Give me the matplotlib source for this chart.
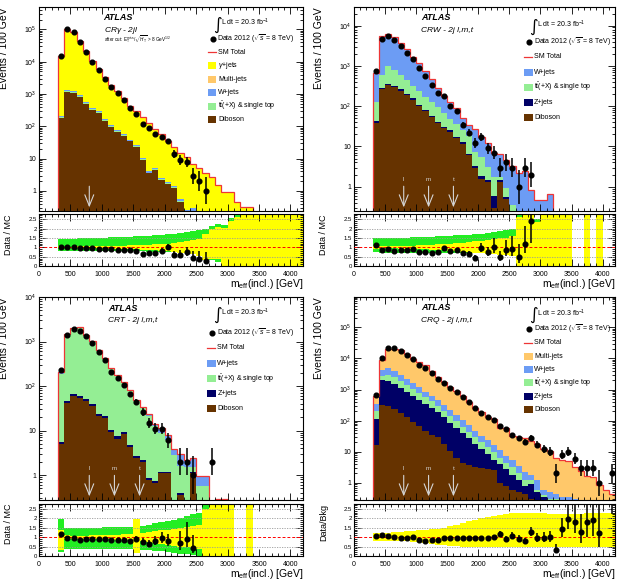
import numpy as np
import matplotlib.pyplot as plt
import matplotlib.transforms as mtransforms
from matplotlib.patches import Rectangle
from matplotlib.lines import Line2D
from matplotlib.ticker import MultipleLocator, LogLocator, NullFormatter, FuncFormatter

plt.rcParams['font.family'] = ['Liberation Sans', 'DejaVu Sans']
plt.rcParams['mathtext.fontset'] = 'custom'
plt.rcParams['mathtext.rm'] = 'Liberation Sans'
plt.rcParams['mathtext.it'] = 'Liberation Sans:italic'
plt.rcParams['mathtext.bf'] = 'Liberation Sans:bold'

# m_eff(incl.) bins, 100 GeV wide from 300 to 4200 GeV
edges = np.arange(300, 4201, 100)
centers = edges[:-1] + 50

cuts = [800, 1200, 1600]
cut_names = ['l', 'm', 't']

# -----------------------------
# CRgamma - 2jl  (stack tops, bottom -> top)
# -----------------------------
crg_data = [15000, 100000, 80000, 40000, 20000, 10000, 5500, 3000, 1700, 1050, 630, 370, 235, 118, 89, 59, 46, 35,
            14, 9, 8, 3, 2, 1, 0, 0, 0, 0, 0, 0, 0, 0, 0, 0, 0, 0, 0, 0, 0]
crg_total = [15000, 99000, 80000, 42000, 21000, 10600, 5900, 3300, 1900, 1200, 730, 440, 290, 190, 127, 82, 57, 35,
             23, 15, 11, 6.7, 5, 3.5, 2.7, 1.5, 0.9, 0.9, 0.47, 0.32, 0.32, 0, 0, 0, 0, 0, 0, 0, 0]
crg_dib = [178, 1170, 1100, 830, 490, 315, 265, 150, 94, 65, 50, 34, 23, 9, 3.5, 4.4, 2.2, 1.7, 1.2, 0.47,
           0, 0, 0, 0, 0, 0, 0, 0, 0, 0, 0, 0, 0, 0, 0, 0, 0, 0, 0]
crg_tt = [190, 1250, 1180, 890, 525, 337, 283, 160, 100, 70, 53, 36, 24.5, 9.6, 3.7, 4.7, 2.35, 1.8, 1.28, 0.5,
          0, 0, 0, 0, 0, 0, 0, 0, 0, 0, 0, 0, 0, 0, 0, 0, 0, 0, 0]
crg_w = [205, 1350, 1270, 955, 565, 362, 305, 172, 108, 75, 57, 39, 26.5, 10.4, 4.0, 5.1, 2.55, 1.95, 1.4, 0.55,
         0.26, 0.3, 0, 0, 0, 0, 0, 0, 0, 0, 0, 0, 0, 0, 0, 0, 0, 0, 0]
crg_grn_up = [1.43, 1.45, 1.46, 1.48, 1.49, 1.5, 1.51, 1.52, 1.53, 1.55, 1.56, 1.57, 1.58, 1.6, 1.62, 1.64, 1.67,
              1.7, 1.73, 1.76, 1.8, 1.87, 1.93, 2.0, 2.12, 2.25, 2.2, 2.55, 2.8, 1, 1, 1, 1, 1, 1, 1, 1, 1, 1]
crg_grn_dn = [0.78, 0.79, 0.79, 0.79, 0.79, 0.79, 0.79, 0.79, 0.79, 0.79, 0.79, 0.78, 0.78, 0.78, 0.77, 0.77, 0.76,
              0.75, 0.73, 0.72, 0.7, 0.62, 0.55, 0.45, 0.3, 0.2, 0.15, 0.1, 0.0, 1, 1, 1, 1, 1, 1, 1, 1, 1, 1]
crg_yel_up = [1.06, 1.04, 1.04, 1.05, 1.05, 1.05, 1.06, 1.06, 1.07, 1.08, 1.09, 1.1, 1.11, 1.12, 1.14, 1.16, 1.18,
              1.2, 1.24, 1.28, 1.32, 1.38, 1.45, 1.7, 2.0, 2.1, 2.05, 2.4, 2.6, 9, 9, 9, 9, 9, 9, 9, 9, 9, 9]
crg_yel_dn = [0.94, 0.96, 0.96, 0.95, 0.95, 0.95, 0.94, 0.94, 0.93, 0.92, 0.91, 0.9, 0.89, 0.88, 0.86, 0.84, 0.82,
              0.8, 0.76, 0.72, 0.68, 0.62, 0.55, 0.3, 0.4, 0.4, 0, 0, 0, -9, -9, -9, -9, -9, -9, -9, -9, -9, -9]

# -----------------------------
# CRW - 2j l,m,t
# -----------------------------
crw_data = [760, 4700, 5500, 4400, 3100, 2150, 1480, 890, 555, 345, 215, 180, 100, 75, 35, 22, 12, 17, 9, 7, 3, 4,
            3, 1, 3, 2, 0, 0, 0, 0, 0, 0, 0, 0, 0, 0, 0, 0, 0]
crw_total = [680, 5600, 6040, 5370, 3600, 2560, 1630, 1160, 740, 486, 280, 184, 127, 89, 51, 34, 27, 17.5, 12.3,
             6.8, 6.5, 4.7, 3.3, 2.2, 2.5, 0.83, 0.47, 0.47, 0.66, 0, 0, 0, 0, 0, 0, 0, 0, 0, 0]
crw_dib = [38, 263, 340, 296, 245, 190, 145, 100, 74, 53, 38, 28, 23, 16, 11.6, 6, 3, 1.6, 1.33, 0.3, 1.3, 0.5,
           0, 0, 0, 0, 0, 0, 0, 0, 0, 0, 0, 0, 0, 0, 0, 0, 0]
crw_z = [42, 285, 365, 318, 263, 204, 156, 108, 80, 57, 41, 30, 25, 17.5, 12.6, 6.5, 3.3, 1.8, 1.5, 0.6, 1.45, 0.55,
         0, 0, 0, 0, 0, 0, 0, 0, 0, 0, 0, 0, 0, 0, 0, 0, 0]
crw_tt = [130, 600, 1000, 800, 600, 450, 320, 245, 167, 130, 95, 67, 48, 37, 26, 18, 7.4, 5.5, 3.1, 1.77, 1.7, 0.93,
          0.35, 0, 0, 0, 0, 0, 0, 0, 0, 0, 0, 0, 0, 0, 0, 0, 0]
crw_grn_up = [1.47, 1.48, 1.49, 1.5, 1.51, 1.52, 1.53, 1.54, 1.55, 1.57, 1.58, 1.6, 1.62, 1.64, 1.66, 1.68, 1.71,
              1.73, 1.76, 1.8, 1.85, 1.9, 1.95, 2.8, 1, 1, 2.5, 1, 1, 1, 1, 1, 1, 1, 1, 1, 1, 1, 1]
crw_grn_dn = [0.73, 0.72, 0.72, 0.72, 0.72, 0.72, 0.72, 0.72, 0.71, 0.71, 0.71, 0.71, 0.71, 0.7, 0.7, 0.7, 0.69,
              0.68, 0.66, 0.64, 0.6, 0.57, 0.52, 0, 1, 1, 0, 1, 1, 1, 1, 1, 1, 1, 1, 1, 1, 1, 1]
crw_yel_up = [1.08, 1.05, 1.05, 1.06, 1.07, 1.08, 1.09, 1.1, 1.11, 1.13, 1.15, 1.17, 1.2, 1.22, 1.25, 1.28, 1.32,
              1.35, 1.38, 1.42, 1.47, 1.52, 1.58, 2.6, 9, 9, 2.35, 9, 9, 9, 9, 9, 1, 1, 9, 1, 9, 1, 1]
crw_yel_dn = [0.92, 0.95, 0.95, 0.94, 0.93, 0.92, 0.91, 0.9, 0.89, 0.87, 0.85, 0.83, 0.81, 0.79, 0.77, 0.74, 0.71,
              0.68, 0.65, 0.62, 0.6, 0.57, 0.53, 0, -9, -9, 0, -9, -9, -9, -9, -9, 1, 1, -9, 1, -9, 1, 1]

# -----------------------------
# CRT - 2j l,m,t
# -----------------------------
crt_data = [230, 1400, 1930, 1740, 1300, 920, 590, 387, 211, 148, 104, 66, 44, 26, 15, 11, 11, 6, 0, 2, 2, 1, 0, 0,
            2, 0, 0, 0, 0, 0, 0, 0, 0, 0, 0, 0, 0, 0, 0]
crt_total = [202, 1470, 2010, 2070, 1430, 1030, 650, 425, 251, 176, 121, 82, 48, 34, 23, 14, 11.6, 7.8, 3.8, 3.0,
             2.2, 2.4, 0.95, 0.95, 0, 0.29, 0.29, 0, 0, 0, 0, 0, 0, 0, 0, 0, 0, 0, 0]
crt_tt = [185, 1400, 1920, 1980, 1370, 990, 620, 405, 240, 168, 115, 78, 45, 32, 21, 12.5, 9, 6, 2.8, 1.6, 1.54,
          1.54, 0.56, 0.56, 0, 0.29, 0.29, 0, 0, 0, 0, 0, 0, 0, 0, 0, 0, 0, 0]
crt_z = [5.6, 47, 67, 59, 50, 39, 23.5, 21, 10.4, 7.4, 9.3, 4.8, 2.7, 2.2, 0.86, 0.74, 1.2, 1.2, 0, 0.4, 0, 1.2, 0,
         0, 0, 0.29, 0.29, 0, 0, 0, 0, 0, 0, 0, 0, 0, 0, 0, 0]
crt_dib = [5, 42, 60, 53, 45, 35, 21, 18.7, 9.3, 6.6, 8.3, 4.3, 2.4, 2.0, 0.77, 0.66, 1.1, 1.1, 0, 0.35, 0, 1.1, 0,
           0, 0, 0.29, 0.29, 0, 0, 0, 0, 0, 0, 0, 0, 0, 0, 0, 0]
crt_grn_up = [1.95, 1.48, 1.48, 1.49, 1.5, 1.5, 1.5, 1.52, 1.53, 1.54, 1.55, 1.55, 1.56, 1.6, 1.66, 1.72, 1.78,
              1.84, 1.9, 2.0, 2.1, 2.2, 2.3, 2.75, 1, 1, 1, 1, 1, 1, 1, 1, 1, 1, 1, 1, 1, 1, 1]
crt_grn_dn = [0.2, 0.35, 0.35, 0.35, 0.35, 0.35, 0.35, 0.35, 0.35, 0.35, 0.35, 0.35, 0.35, 0.33, 0.3, 0.27, 0.24,
              0.2, 0.16, 0.12, 0.08, 0.04, 0, 0, 1, 1, 1, 1, 1, 1, 1, 1, 1, 1, 1, 1, 1, 1, 1]
crt_yel_up = [1.35, 1.1, 1.08, 1.08, 1.08, 1.09, 1.1, 1.11, 1.12, 1.13, 1.14, 1.15, 1.95, 1.2, 1.25, 1.3, 1.35,
              1.4, 1.45, 1.5, 1.55, 1.6, 1.65, 2.5, 9, 9, 9, 9, 1, 1, 9, 1, 1, 1, 1, 1, 1, 1, 1]
crt_yel_dn = [0.3, 0.9, 0.92, 0.92, 0.92, 0.91, 0.9, 0.89, 0.88, 0.87, 0.86, 0.85, 0.15, 0.8, 0.75, 0.7, 0.65,
              0.6, 0.55, 0.5, 0.45, 0.4, 0.35, 0, -9, -9, -9, -9, 1, 1, -9, 1, 1, 1, 1, 1, 1, 1, 1]

# -----------------------------
# CRQ - 2j l,m,t
# -----------------------------
crq_data = [650, 10000, 21000, 21000, 17400, 13000, 9300, 6400, 4800, 3300, 2200, 1600, 1100, 830, 570, 390, 250,
            178, 128, 107, 66, 54, 35, 27, 21, 28, 17, 12, 10, 2, 8, 10, 6, 3, 3, 3, 1, 0, 2]
crq_total = [607, 9170, 19600, 20600, 18100, 13500, 9500, 7440, 6080, 4020, 2620, 1720, 1180, 874, 600, 406, 260,
             187, 133, 109, 57, 59, 33, 30, 27, 22, 18, 12.6, 10.2, 6.3, 5.6, 5.1, 3.3, 2.4, 1.67, 1.58, 0.83, 0.6,
             0.45]
crq_w = [350, 4200, 5000, 4000, 3000, 2200, 1600, 1170, 850, 620, 445, 320, 215, 150, 102, 70, 48, 33, 23, 16, 11,
         7.5, 5.5, 3.5, 2.2, 1.8, 1.2, 0.6, 0.5, 0.45, 0.35, 0.35, 0.3, 0, 0, 0, 0, 0, 0]
crq_tt = [210, 2750, 3000, 2500, 1900, 1400, 1050, 780, 580, 420, 300, 205, 140, 95, 64, 44, 30, 21, 14, 9.5, 6.5,
          4.5, 3.2, 2.0, 1.2, 1.2, 0.6, 0.4, 0.3, 0.3, 0, 0, 0, 0, 0, 0, 0, 0, 0]
crq_z = [110, 2000, 1900, 1550, 1150, 850, 630, 470, 350, 260, 187, 128, 87, 60, 40, 27, 18, 12, 8.5, 5.5, 4, 2.8,
         1.8, 1.2, 0.8, 0.9, 0.5, 0.35, 0.25, 0, 0, 0, 0, 0, 0, 0, 0, 0, 0]
crq_dib = [16, 330, 300, 240, 178, 128, 93, 69, 48, 35, 29, 17.5, 10.6, 6.5, 4.5, 3.8, 3.3, 3.0, 2.8, 2.6, 1.0,
           0.8, 0.6, 0.5, 0.45, 0.3, 0, 0, 0, 0, 0, 0, 0, 0, 0, 0, 0, 0, 0]
crq_yel_up = [1.2, 1.22, 1.24, 1.26, 1.28, 1.3, 1.33, 1.35, 1.38, 1.41, 1.45, 1.5, 1.57, 1.65, 1.74, 1.84, 1.93,
              2.0, 2.08, 2.13, 2.18, 2.23, 2.26, 2.29, 2.3, 2.28, 2.26, 2.25, 2.24, 2.22, 2.2, 2.2, 2.22, 2.24,
              2.26, 2.28, 2.29, 2.3, 2.3]
crq_yel_dn = [0.78, 0.8, 0.8, 0.79, 0.78, 0.77, 0.75, 0.72, 0.68, 0.64, 0.6, 0.57, 0.54, 0.51, 0.49, 0.48, 0.47,
              0.47, 0.47, 0.47, 0.47, 0.47, 0.47, 0.47, 0.47, 0.47, 0.47, 0.47, 0.47, 0.47, 0.47, 0.47, 0.47, 0.47,
              0.47, 0.47, 0.47, 0.47, 0.47]

# colours
RED = '#ee3535'
C_GAM = '#ffff00'
C_MJ = '#ffc86a'
C_W = '#6c9cf4'
C_TT = '#94ee94'
C_Z = '#000066'
C_DIB = '#663300'
C_RYEL = '#ffff00'
C_RGRN = '#22ee22'
ARROW = '#d4d4d4'

W, H = 622, 581
fig = plt.figure(figsize=(W / 100, H / 100), dpi=100)


def rect(x0, x1, y0, y1):
    return [x0 / W, 1 - y1 / H, (x1 - x0) / W, (y1 - y0) / H]


def log_fmt(v, pos):
    e = int(round(np.log10(v)))
    if e == 0:
        return '1'
    if e == 1:
        return '10'
    return r'$10^{%d}$' % e


def poisson(n):
    n = np.asarray(n, float)
    s = np.sqrt(n + 0.25)
    return s - 0.5, s + 0.5


def style(ax):
    ax.set_xlim(0, 4200)
    ax.xaxis.set_major_locator(MultipleLocator(500))
    ax.xaxis.set_minor_locator(MultipleLocator(100))
    ax.tick_params(which='both', direction='in', top=True, right=True, labelsize=5, width=0.6, pad=2)
    ax.tick_params(which='major', length=5)
    ax.tick_params(which='minor', length=2.5)
    for s in ax.spines.values():
        s.set_linewidth(0.8)


def panel(px, py, layers, total, data, grn, yel, ylim, title, sub, legend, leg_y, n_arrows, rlabel):
    x0, x1 = px
    mt, mb, rt, rb = py
    ax = fig.add_axes(rect(x0, x1, mt, mb))
    rx = fig.add_axes(rect(x0, x1, rt, rb))
    style(ax)
    style(rx)

    # stacked backgrounds (cumulative tops, drawn from the top layer down)
    for top, color in reversed(layers):
        v = np.asarray(top, float)
        ax.stairs(np.where(v > 0, v, 1e-3), edges, baseline=1e-3, fill=True, color=color, lw=0)
    tot = np.asarray(total, float)
    ax.stairs(np.where(tot > 0, tot, 1e-3), edges, baseline=1e-3, color=RED, lw=0.9)

    d = np.asarray(data, float)
    lo, hi = poisson(d)
    m = d > 0
    ax.errorbar(centers[m], d[m], yerr=[lo[m], hi[m]], fmt='o', color='k', ms=3.4, elinewidth=1.1, capsize=0,
                zorder=5)

    ax.set_yscale('log')
    ax.set_ylim(*ylim)
    ax.yaxis.set_major_locator(LogLocator(base=10, numticks=20))
    ax.yaxis.set_minor_locator(LogLocator(base=10, subs=np.arange(2, 10), numticks=20))
    ax.yaxis.set_major_formatter(FuncFormatter(log_fmt))
    ax.yaxis.set_minor_formatter(NullFormatter())
    ax.tick_params(labelbottom=False)
    ax.set_ylabel('Events / 100 GeV', fontsize=7.5, loc='top')
    ax.yaxis.set_label_coords(-0.115, 1.0)

    # signal-region cut arrows
    tr = mtransforms.blended_transform_factory(ax.transData, ax.transAxes)
    for i in range(n_arrows):
        ax.annotate('', xy=(cuts[i], 0.004), xycoords=tr, xytext=(cuts[i], 0.135), textcoords=tr,
                    arrowprops=dict(arrowstyle='->,head_length=0.8,head_width=0.32', color=ARROW, lw=0.8),
                    zorder=4)
        if n_arrows > 1:
            ax.text(cuts[i], 0.155, cut_names[i], transform=tr, ha='center', va='center', fontsize=4.5,
                    color=ARROW, zorder=4)

    # labels
    tx = title[0]
    ax.text(tx, title[1], 'ATLAS', transform=ax.transAxes, fontsize=6.5, fontweight='bold', fontstyle='italic',
            va='center')
    ax.text(tx, title[2], sub, transform=ax.transAxes, fontsize=6, fontstyle='italic', va='center')

    lx = leg_y[0]
    ax.text(lx + 0.036, leg_y[1] - 0.005, '∫', transform=ax.transAxes, fontsize=12, family='DejaVu Sans',
            ha='center', va='center')
    ax.text(lx + 0.05, leg_y[1] + 0.005, 'L dt = 20.3 fb$^{-1}$', transform=ax.transAxes, fontsize=5,
            va='center')
    ax.plot([lx + 0.018], [leg_y[2]], 'o', color='k', ms=3.4, transform=ax.transAxes)
    ax.text(lx + 0.036, leg_y[2], r'Data 2012 ($\sqrt{s}$ = 8 TeV)', transform=ax.transAxes, fontsize=5,
            va='center')
    for i, (kind, color, label) in enumerate(legend):
        yy = leg_y[3] - i * leg_y[4]
        if kind == 'line':
            ax.add_line(Line2D([lx, lx + 0.03], [yy, yy], color=color, lw=0.9, transform=ax.transAxes))
        else:
            ax.add_patch(Rectangle((lx, yy - 0.017), 0.032, 0.034, color=color, transform=ax.transAxes, lw=0))
        ax.text(lx + 0.038, yy, label, transform=ax.transAxes, fontsize=5, va='center')

    # ratio panel
    if grn is not None:
        rx.stairs(grn[0], edges, baseline=grn[1], fill=True, color=C_RGRN, lw=0)
    rx.stairs(yel[0], edges, baseline=yel[1], fill=True, color=C_RYEL, lw=0)
    for v in [0.5, 1.5, 2.0, 2.5]:
        rx.axhline(v, color='#9a9a9a', ls=(0, (1.5, 1.5)), lw=0.6, zorder=3)
    rx.axhline(1.0, color='red', ls=(0, (3, 2)), lw=0.7, zorder=3)
    ok = (tot > 0) & (d > 0)
    rx.errorbar(centers[ok], d[ok] / tot[ok], yerr=[lo[ok] / tot[ok], hi[ok] / tot[ok]], fmt='o', color='k',
                ms=3.4, elinewidth=1.1, capsize=0, zorder=5)
    rx.set_ylim(0, 2.75)
    rx.yaxis.set_major_locator(MultipleLocator(0.5))
    rx.yaxis.set_minor_locator(MultipleLocator(0.1))
    rx.yaxis.set_major_formatter(FuncFormatter(lambda v, p: '%g' % v))
    rx.tick_params(axis='y', pad=1.5, labelsize=4.3)
    rx.tick_params(axis='x', pad=3.5)
    rx.set_ylabel(rlabel, fontsize=6.5, loc='top')
    rx.yaxis.set_label_coords(-0.1, 1.0)
    rx.set_xlabel(r'm$_{\mathrm{eff}}$(incl.) [GeV]', fontsize=7.5, loc='right')
    rx.xaxis.set_label_coords(1.0, -0.22)
    return ax, rx


top_rows = (7, 211, 214.5, 266)
bot_rows = (297, 500, 504, 556)

ax_a, _ = panel((39, 303), top_rows,
                [(crg_dib, C_DIB), (crg_tt, C_TT), (crg_w, C_W), (crg_total, C_GAM)],
                crg_total, crg_data, (crg_grn_up, crg_grn_dn), (crg_yel_up, crg_yel_dn), (0.24, 4.9e5),
                (0.245, 0.95, 0.884), 'CR$\\gamma$ - 2jl',
                [('line', RED, 'SM Total'), ('patch', C_GAM, '$\\gamma$+jets'), ('patch', C_MJ, 'Multi-jets'),
                 ('patch', C_W, 'W+jets'), ('patch', C_TT, 't$\\bar{\\mathrm{t}}$(+X) & single top'),
                 ('patch', C_DIB, 'Diboson')],
                (0.64, 0.918, 0.843, 0.778, 0.066), 1, 'Data / MC')
ax_a.text(0.245, 0.838, r'after cut: E$_{\mathrm{T}}^{\mathrm{miss}}$/$\sqrt{H_{\mathrm{T}}}$ > 8 GeV$^{1/2}$',
          transform=ax_a.transAxes, fontsize=3.3, va='center')

panel((354, 615), top_rows,
      [(crw_dib, C_DIB), (crw_z, C_Z), (crw_tt, C_TT), (crw_total, C_W)],
      crw_total, crw_data, (crw_grn_up, crw_grn_dn), (crw_yel_up, crw_yel_dn), (0.25, 2.9e4),
      (0.257, 0.95, 0.887), 'CRW - 2j l,m,t',
      [('line', RED, 'SM Total'), ('patch', C_W, 'W+jets'),
       ('patch', C_TT, 't$\\bar{\\mathrm{t}}$(+X) & single top'), ('patch', C_Z, 'Z+jets'),
       ('patch', C_DIB, 'Diboson')],
      (0.652, 0.91, 0.828, 0.755, 0.074), 3, 'Data / MC')

panel((39, 303), bot_rows,
      [(crt_dib, C_DIB), (crt_z, C_Z), (crt_tt, C_TT), (crt_total, C_W)],
      crt_total, crt_data, (crt_grn_up, crt_grn_dn), (crt_yel_up, crt_yel_dn), (0.275, 1e4),
      (0.262, 0.944, 0.883), 'CRT - 2j l,m,t',
      [('line', RED, 'SM Total'), ('patch', C_W, 'W+jets'),
       ('patch', C_TT, 't$\\bar{\\mathrm{t}}$(+X) & single top'), ('patch', C_Z, 'Z+jets'),
       ('patch', C_DIB, 'Diboson')],
      (0.638, 0.918, 0.824, 0.749, 0.075), 3, 'Data / MC')

panel((354, 615), bot_rows,
      [(crq_dib, C_DIB), (crq_z, C_Z), (crq_tt, C_TT), (crq_w, C_W), (crq_total, C_MJ)],
      crq_total, crq_data, None, (crq_yel_up, crq_yel_dn), (0.28, 9.5e5),
      (0.257, 0.946, 0.883), 'CRQ - 2j l,m,t',
      [('line', RED, 'SM Total'), ('patch', C_MJ, 'Multi-jets'), ('patch', C_W, 'W+jets'),
       ('patch', C_TT, 't$\\bar{\\mathrm{t}}$(+X) & single top'), ('patch', C_Z, 'Z+jets'),
       ('patch', C_DIB, 'Diboson')],
      (0.652, 0.915, 0.841, 0.775, 0.066), 3, 'Data/Bkg')

fig.savefig('out.png', dpi=100)
